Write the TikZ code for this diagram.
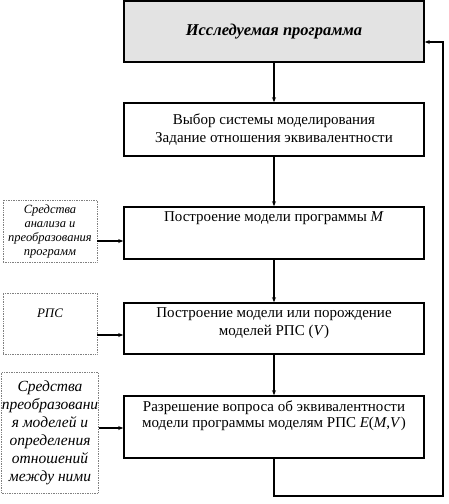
\documentclass[tikz,border=0pt]{standalone}
\usepackage{fontspec}
\setmainfont{Liberation Serif}
\usetikzlibrary{calc,positioning,arrows.meta}

\begin{document}
\begin{tikzpicture}[x=1pt, y=-1pt, align=center, >={Stealth[length=5pt, width=4pt]}]
    \tikzset{
        stage/.style={draw, line width=1.6pt, minimum width=300pt, inner sep=0pt, font=\fontsize{15}{17.5}\selectfont},
        tool/.style={draw, gray, densely dotted, line width=0.7pt, minimum width=94pt, inner sep=0pt, text=black, font=\fontsize{12.5}{14}\selectfont\itshape},
        flow/.style={->, line width=1.3pt},
    }
    \useasboundingbox (0,0) rectangle (448,504);

    \node [stage, fill=gray!22, minimum height=61pt] (prog) at (274,31.5) {\fontsize{16.5}{18}\selectfont\bfseries\itshape Исследуемая программа};

    \node [stage, minimum height=53pt] (choice) at (274,129.5) {Выбор системы моделирования\\Задание отношения эквивалентности};

    \node [stage, minimum height=52pt, label={[anchor=north, yshift=-2pt, font=\fontsize{15}{17.5}\selectfont]north:Построение модели программы \textit{M}}] (model) at (274,233) {};

    \node [stage, minimum height=51pt, label={[anchor=north, yshift=-2pt, align=center, font=\fontsize{15}{17.5}\selectfont]north:Построение модели или порождение\\моделей РПС (\textit{V})}] (rps) at (274,328.5) {};

    \node [stage, minimum height=62pt, label={[anchor=north, yshift=-2pt, align=center, font=\fontsize{15}{16.5}\selectfont]north:Разрешение вопроса об эквивалентности\\модели программы моделям РПС \textit{E}(\textit{M},\textit{V})}] (judge) at (274,427) {};

    % tools on the left
    \node [tool, minimum height=62pt] (analysis) at (50,231) {Средства\\анализа и\\преобразования\\программ};
    \node [tool, minimum height=61pt, label={[anchor=north, yshift=-13pt, font=\fontsize{13}{14}\selectfont\itshape]north:РПС}] (rpstool) at (50,323.5) {};
    \node [tool, minimum height=121pt, font=\fontsize{15.5}{18}\selectfont\itshape] (transform) at (50,432.5) {Средства\\преобразовани\\я моделей и\\определения\\отношений\\между ними};

    \draw [flow] (prog) -- (choice);
    \draw [flow] (choice) -- (model);
    \draw [flow] (model) -- (rps);
    \draw [flow] (rps) -- (judge);

    \draw [flow] (analysis.east |- 0,241) -- (model.west |- 0,241);
    \draw [flow] (rpstool.east |- 0,335) -- (rps.west |- 0,335);
    \draw [flow] (transform.east |- 0,428) -- (judge.west |- 0,428);

    % feedback loop
    \coordinate (loop) at (443,496);
    \draw [flow] (judge.south) |- (loop) |- ([yshift=-10.5pt]prog.east);
\end{tikzpicture}
\end{document}
